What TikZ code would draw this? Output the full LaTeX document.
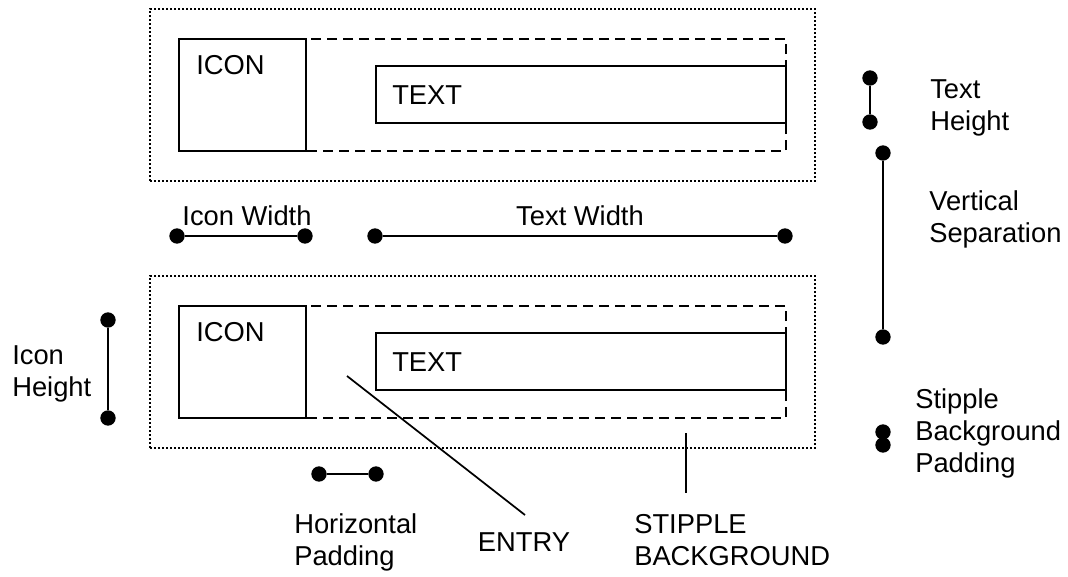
\documentclass[tikz,border=0pt]{standalone}
\usepackage{fontspec}
\setmainfont{Liberation Sans}
\begin{document}
\begin{tikzpicture}[x=0.75pt,y=-0.75pt,
  lw/.style={line width=1.6pt},
  stipple/.style={draw,line width=1.6pt,dash pattern=on 1.5pt off 1.5pt,inner sep=0pt},
  entrybox/.style={draw,line width=1.7pt,dash pattern=on 7.5pt off 4.5pt,inner sep=0pt},
  iconbox/.style={draw,line width=1.6pt,inner sep=0pt},
  textbox/.style={draw,line width=1.6pt,inner sep=0pt},
  dot/.style={circle,fill=black,inner sep=0pt,minimum size=11.5pt},
  lbl/.style={inner sep=0pt,font=\fontsize{20.5}{24}\selectfont,align=left},
  lbltop/.style={inner sep=0pt,font=\fontsize{20.5}{24}\selectfont}]
\useasboundingbox (0,0) rectangle (1068,577);
% top entry
\node[stipple,minimum width=665*0.75pt,minimum height=172*0.75pt,anchor=north west] (bg1) at (149,8) {};
\node[entrybox,minimum width=607*0.75pt,minimum height=112*0.75pt,anchor=north west] (en1) at (178,38) {};
\node[iconbox,minimum width=127*0.75pt,minimum height=112*0.75pt,anchor=north west] (ic1) at (178,38) {};
\node[textbox,minimum width=410*0.75pt,minimum height=57*0.75pt,anchor=north west] (tx1) at (375,65) {};
\node[lbltop,anchor=west] (icl1) at (196,65) {ICON};
\node[lbltop,anchor=west] (txl1) at (392,95) {TEXT};
% bottom entry
\node[stipple,minimum width=665*0.75pt,minimum height=172*0.75pt,anchor=north west] (bg2) at (149,275) {};
\node[entrybox,minimum width=607*0.75pt,minimum height=112*0.75pt,anchor=north west] (en2) at (178,305) {};
\node[iconbox,minimum width=127*0.75pt,minimum height=112*0.75pt,anchor=north west] (ic2) at (178,305) {};
\node[textbox,minimum width=410*0.75pt,minimum height=57*0.75pt,anchor=north west] (tx2) at (375,332) {};
\node[lbltop,anchor=west] (icl2) at (196,332) {ICON};
\node[lbltop,anchor=west] (txl2) at (392,362) {TEXT};
% icon width
\node[dot] (iw1) at (177,236) {};
\node[dot] (iw2) at (305,236) {};
\draw[lw] (iw1) -- (iw2);
\node[lbl] (iwl) at (247,216) {Icon Width};
% text width
\node[dot] (tw1) at (375,236) {};
\node[dot] (tw2) at (785,236) {};
\draw[lw] (tw1) -- (tw2);
\node[lbl] (twl) at (580,216) {Text Width};
% text height
\node[dot] (th1) at (870,78) {};
\node[dot] (th2) at (870,122) {};
\draw[lw] (th1) -- (th2);
\node[lbl,anchor=west] (thl) at (930,108) {Text\\Height};
% vertical separation
\node[dot] (vs1) at (883,153) {};
\node[dot] (vs2) at (883,337) {};
\draw[lw] (vs1) -- (vs2);
\node[lbl,anchor=west] (vsl) at (929,219) {Vertical\\Separation};
% stipple background padding
\node[dot] (sp1) at (883,432) {};
\node[dot] (sp2) at (883,445) {};
\node[lbl,anchor=west] (spl) at (915,433) {Stipple\\Background\\Padding};
% icon height
\node[dot] (ih1) at (108,320) {};
\node[dot] (ih2) at (108,418) {};
\draw[lw] (ih1) -- (ih2);
\node[lbl,anchor=west] (ihl) at (12,374) {Icon\\Height};
% horizontal padding
\node[dot] (hp1) at (319,474) {};
\node[dot] (hp2) at (376,474) {};
\draw[lw] (hp1) -- (hp2);
\node[lbl,anchor=west] (hpl) at (294,542) {Horizontal\\Padding};
% entry pointer
\coordinate (ep) at (347,376);
\coordinate (ee) at (525,515);
\draw[line width=1.3pt] (ep) -- (ee);
\node[lbl] (entl) at (524,542) {ENTRY};
% stipple background pointer
\coordinate (sb1) at (686,433);
\coordinate (sb2) at (686,493);
\draw[line width=1.3pt] (sb1) -- (sb2);
\node[lbl,anchor=west] (sbl) at (634,540) {STIPPLE\\BACKGROUND};
\end{tikzpicture}
\end{document}
